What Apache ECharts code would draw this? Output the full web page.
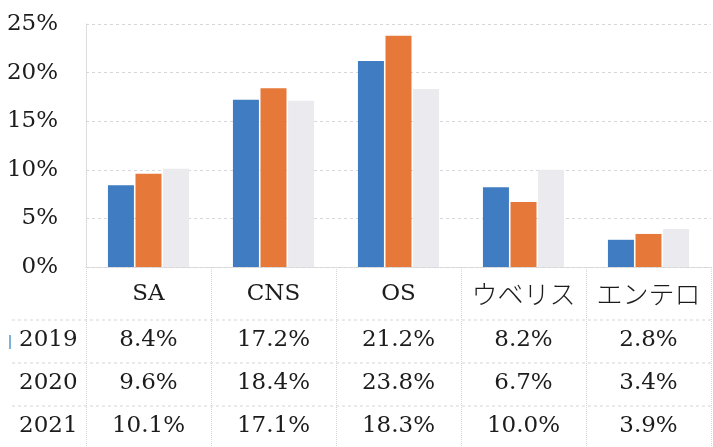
<!DOCTYPE html>
<html>
<head>
<meta charset="utf-8">
<script src="https://cdn.jsdelivr.net/npm/echarts@6/dist/echarts.min.js"></script>
<style>
  html, body { margin: 0; padding: 0; background: #ffffff; }
  #chart { width: 713px; height: 447px; }
</style>
</head>
<body>
<div id="chart"></div>
<script>
// Share by category, per year (%)
const categories = ['SA', 'CNS', 'OS', 'ウベリス', 'エンテロ'];
const years = ['2019', '2020', '2021'];
const values2019 = [8.4, 17.2, 21.2, 8.2, 2.8];
const values2020 = [9.6, 18.4, 23.8, 6.7, 3.4];
const values2021 = [10.1, 17.1, 18.3, 10.0, 3.9];
const yMin = 0, yMax = 25, yStep = 5;

const seriesValues = [values2019, values2020, values2021];
const barColors = ['#3f7cc2', '#e6793a', '#ebebef'];

const SERIF = '"DejaVu Serif", "Liberation Serif", serif';
const JP = '"Noto Sans CJK JP", sans-serif';
const INK = '#1c1c1c';
const LINE = '#d6d6d6';

const gridTop = 24, gridBottom = 180, gridLeft = 86;
const axisY = 447 - gridBottom;           // pixel row of the 0% line
const rowCenters = [340, 383, 426];        // data-table rows below the plot
const catCenter = 294;

const isAscii = s => /^[\x00-\x7f]*$/.test(s);

const chart = echarts.init(document.getElementById('chart'), null, { renderer: 'canvas' });

// main category axis + one label-only axis per table row
const xAxes = [{
  type: 'category',
  data: categories,
  position: 'bottom',
  offset: 0,
  axisLine: { show: true, lineStyle: { color: LINE, type: 'dotted', width: 1 } },
  axisTick: { show: true, alignWithLabel: false, length: 447 - axisY,
              lineStyle: { color: LINE, type: 'dotted', width: 1 } },
  axisLabel: {
    margin: catCenter - axisY,
    verticalAlign: 'middle',
    formatter: v => isAscii(v) ? '{lat|' + v + '}' : '{jp|' + v + '}',
    rich: {
      lat: { fontFamily: SERIF, fontSize: 23, color: INK },
      jp: { fontFamily: JP, fontSize: 26, fontWeight: 300, color: INK }
    }
  }
}];
seriesValues.forEach((vals, i) => {
  xAxes.push({
    type: 'category',
    data: vals.map(v => v.toFixed(1) + '%'),
    position: 'bottom',
    offset: 0,
    axisLine: { show: false },
    axisTick: { show: false },
    splitLine: { show: false },
    axisLabel: {
      margin: rowCenters[i] - axisY,
      verticalAlign: 'middle',
      fontFamily: SERIF, fontSize: 23, color: INK
    }
  });
});

const graphics = [];
// horizontal rules of the data table
[320, 363, 406].forEach(y => {
  graphics.push({
    type: 'line', silent: true,
    shape: { x1: 12, y1: y, x2: 713, y2: y },
    style: { stroke: LINE, lineWidth: 1, lineDash: [3, 3] }
  });
});
// row headers
years.forEach((yr, i) => {
  graphics.push({
    type: 'text', silent: true,
    x: 19, y: rowCenters[i],
    style: { text: yr, font: '23px ' + SERIF, fill: INK, verticalAlign: 'middle', align: 'left' }
  });
});
// series key beside the first row
graphics.push({
  type: 'rect', silent: true,
  shape: { x: 9, y: 335, width: 2, height: 14 },
  style: { fill: '#7fb0d8' }
});

chart.setOption({
  animation: false,
  backgroundColor: '#ffffff',
  grid: { left: gridLeft, right: 2, top: gridTop, bottom: gridBottom, containLabel: false },
  xAxis: xAxes,
  yAxis: {
    type: 'value',
    min: yMin, max: yMax, interval: yStep,
    axisLine: { show: true, lineStyle: { color: LINE, type: 'dotted', width: 1 } },
    axisTick: { show: false },
    splitLine: { show: true, lineStyle: { color: LINE, type: [3, 3], width: 1 } },
    axisLabel: {
      margin: 28,
      formatter: '{value}%',
      fontFamily: SERIF, fontSize: 23, color: INK
    }
  },
  series: seriesValues.map((vals, i) => ({
    name: years[i],
    type: 'bar',
    xAxisIndex: 0,
    data: vals,
    barWidth: 26,
    barGap: '6%',
    itemStyle: { color: barColors[i] }
  })),
  graphic: graphics
});
</script>
</body>
</html>
